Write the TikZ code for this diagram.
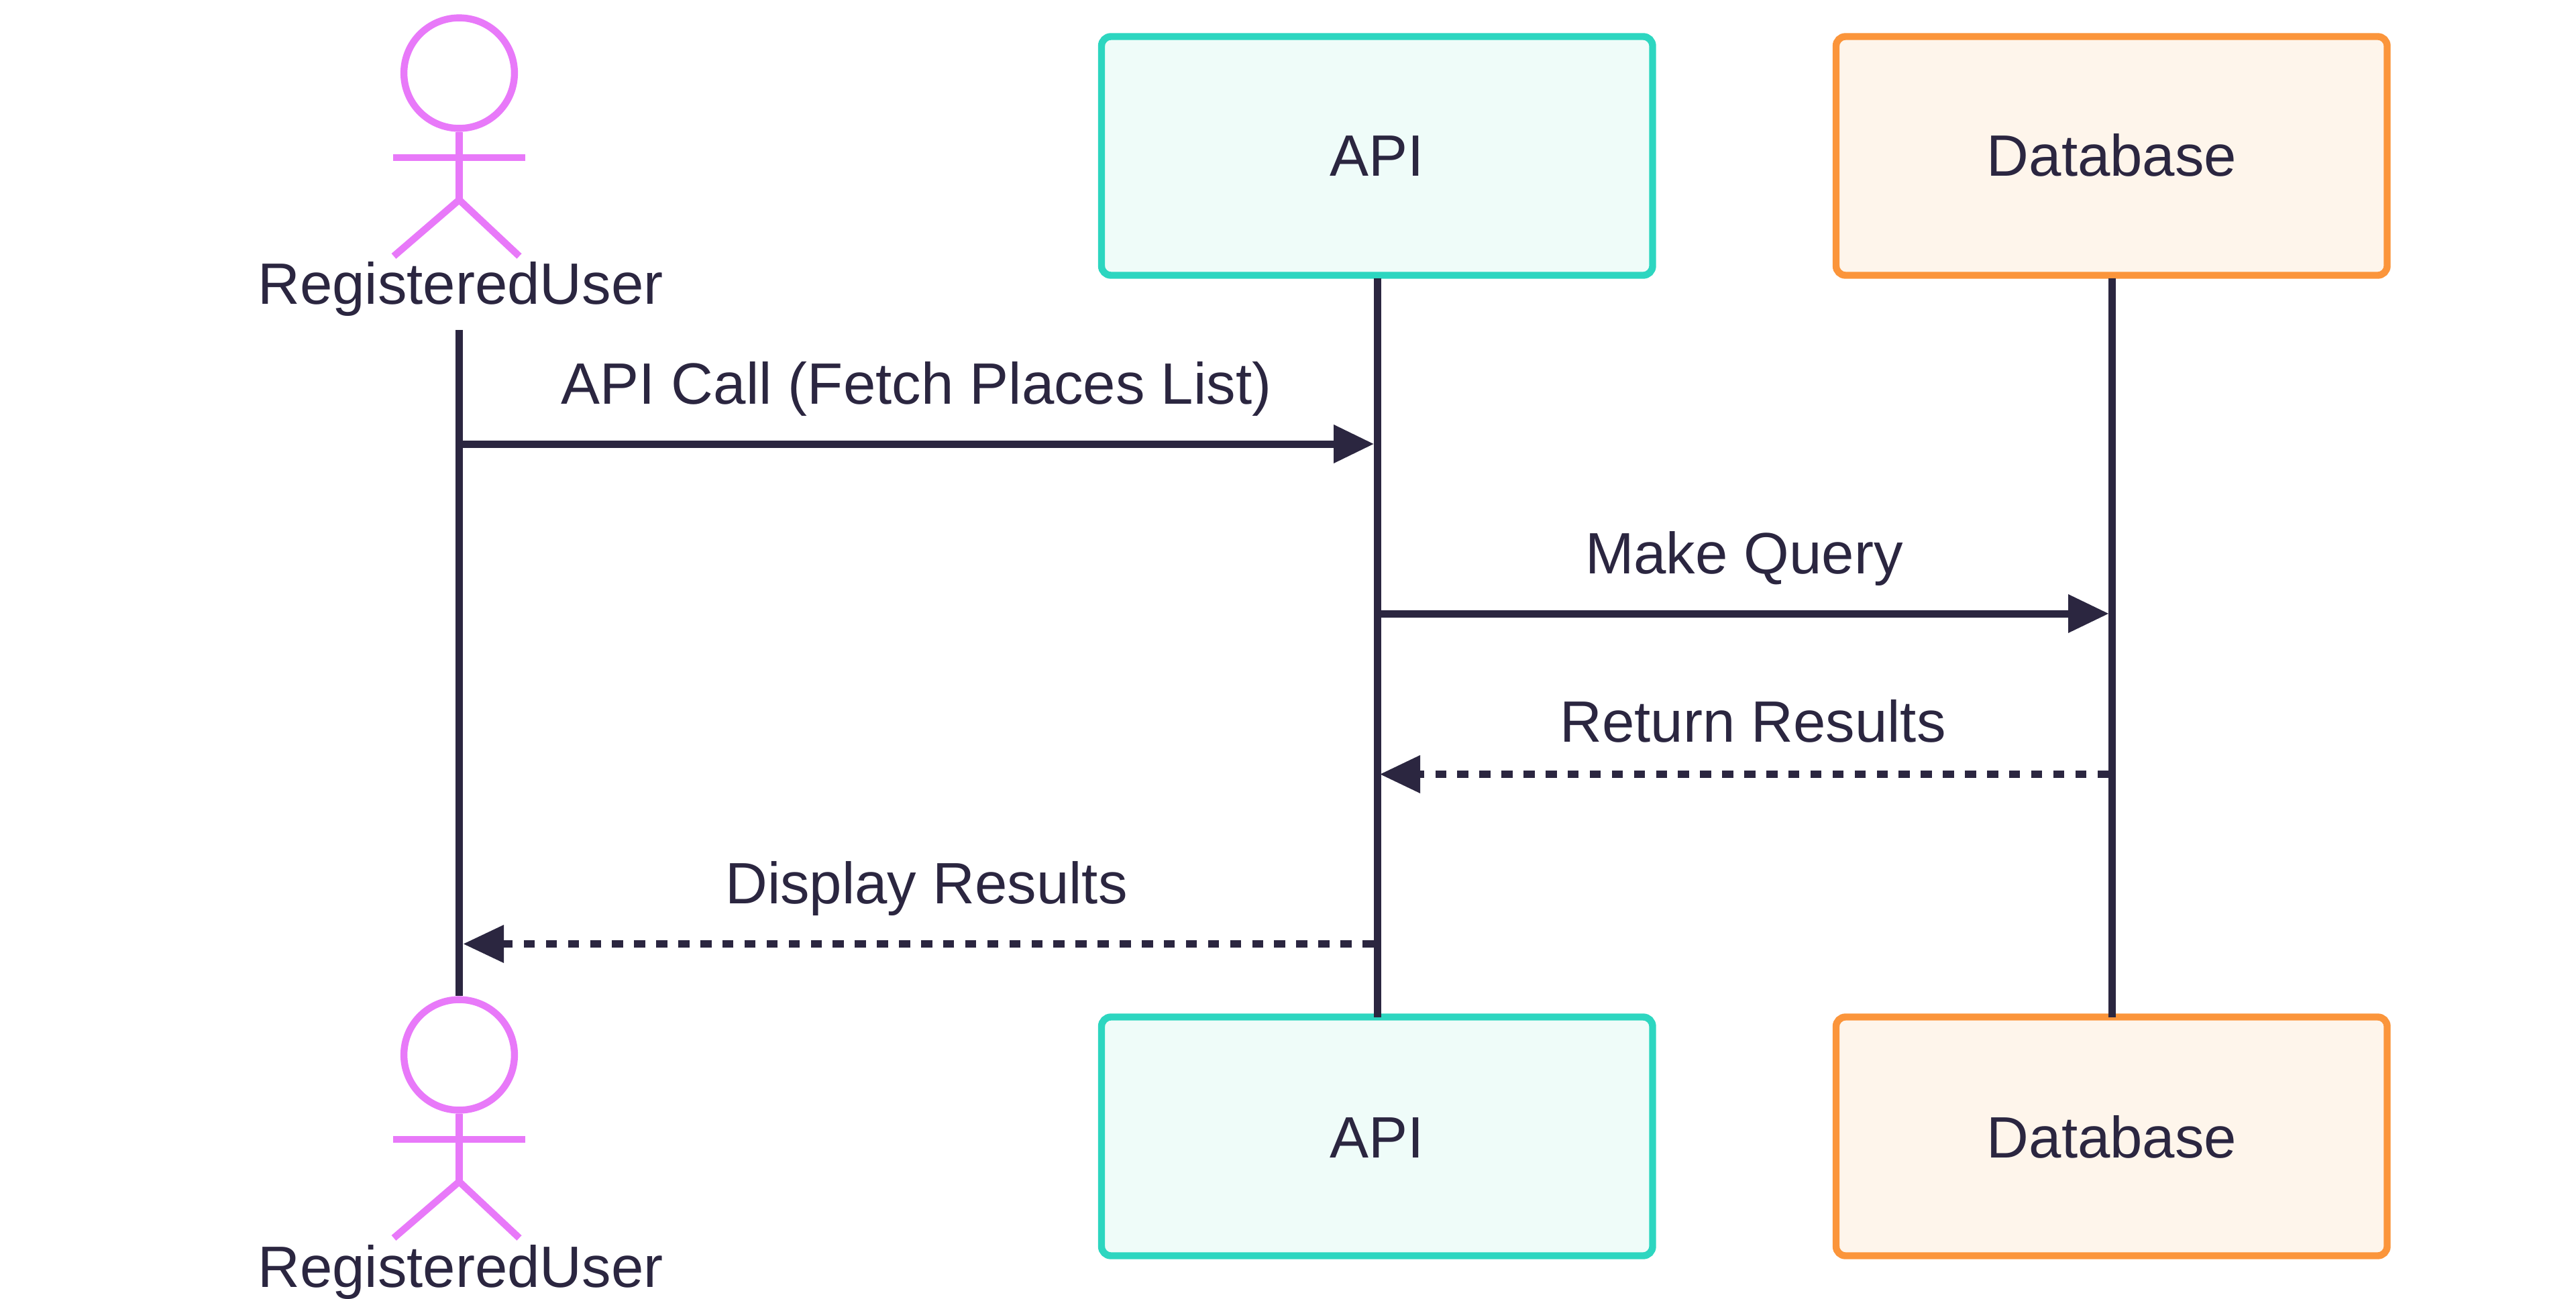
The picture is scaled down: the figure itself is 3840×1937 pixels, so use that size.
\documentclass[tikz,border=0pt]{standalone}
\usepackage{fontspec}
\setmainfont{Liberation Sans}
\definecolor{ink}{HTML}{2B2640}
\definecolor{pinkline}{HTML}{E879F9}
\definecolor{tealline}{HTML}{2DD6C0}
\definecolor{tealfill}{HTML}{EFFCF9}
\definecolor{orangeline}{HTML}{FB953B}
\definecolor{orangefill}{HTML}{FEF5EB}
\tikzset{
  px/.style={x=0.5pt,y=-0.5pt},
  txt/.style={inner sep=0pt,text=ink,anchor=base,font=\fontsize{43.5pt}{50pt}\selectfont},
  lifeline/.style={draw=ink,line width=5.5pt},
  solidmsg/.style={draw=ink,line width=5.5pt},
  dashmsg/.style={draw=ink,line width=5.5pt,dash pattern=on 8.25pt off 8.2pt},
  tip/.style={fill=ink,draw=none},
  stick/.style={draw=pinkline,line width=5.2pt},
  tealbox/.style={draw=tealline,fill=tealfill,line width=5.2pt,rounded corners=7pt},
  orangebox/.style={draw=orangeline,fill=orangefill,line width=5.2pt,rounded corners=7pt},
}
\newcommand{\actor}[1]{%
  \draw[stick] (684.5,#1+109) circle [radius=41.2pt];
  \draw[stick] (684.5,#1+197) -- (684.5,#1+300);
  \draw[stick] (586,#1+235) -- (783,#1+235);
  \draw[stick] (587,#1+382) -- (684.5,#1+298) -- (774,#1+382);
}
\begin{document}
\begin{tikzpicture}[px]
\useasboundingbox (0,0) rectangle (3840,1937);
% anchors
\coordinate (ut) at (684.5,492);
\coordinate (ub) at (684.5,1485);
\coordinate (at) at (2053,415);
\coordinate (ab) at (2053,1516.5);
\coordinate (dt) at (3148,415);
\coordinate (db) at (3148,1516.5);
% lifelines and boxes
\draw[tealbox] (1642,54.5) rectangle (2463.5,410.5);
\draw[orangebox] (2737,54.5) rectangle (3558.5,410.5);
\draw[tealbox] (1642,1516.5) rectangle (2463.5,1872.5);
\draw[orangebox] (2737,1516.5) rectangle (3558.5,1872.5);
\draw[lifeline] (ut) -- (ub);
\draw[lifeline] (at) -- (ab);
\draw[lifeline] (dt) -- (db);
\actor{0}
\actor{1464}
\node[txt] (u1) at (686.5,453.5) {RegisteredUser};
\node[txt] (u2) at (686.5,1919) {RegisteredUser};
\node[txt] (a1) at (2053,262.5) {API};
\node[txt] (d1) at (3148,262.5) {Database};
\node[txt] (a2) at (2053,1726) {API};
\node[txt] (d2) at (3148,1726) {Database};
% messages
\node[txt] (m1) at (1366,602.5) {API Call (Fetch Places List)};
\node[txt] (m2) at (2600,855) {Make Query};
\node[txt] (m3) at (2613,1106) {Return Results};
\node[txt] (m4) at (1381,1347) {Display Results};
\draw[solidmsg] (690,662) -- (1990,662);
\fill[tip] (2047.5,662) -- (1988,633) -- (1988,691) -- cycle;
\draw[solidmsg] (2059,915) -- (3085,915);
\fill[tip] (3143,915) -- (3083,886) -- (3083,944) -- cycle;
\draw[dashmsg] (3143,1154.5) -- (2117,1154.5);
\fill[tip] (2057.5,1154.5) -- (2117,1126) -- (2117,1183) -- cycle;
\draw[dashmsg] (2047.5,1407.5) -- (751,1407.5);
\fill[tip] (691,1407.5) -- (751,1379) -- (751,1436) -- cycle;
\end{tikzpicture}
\end{document}
